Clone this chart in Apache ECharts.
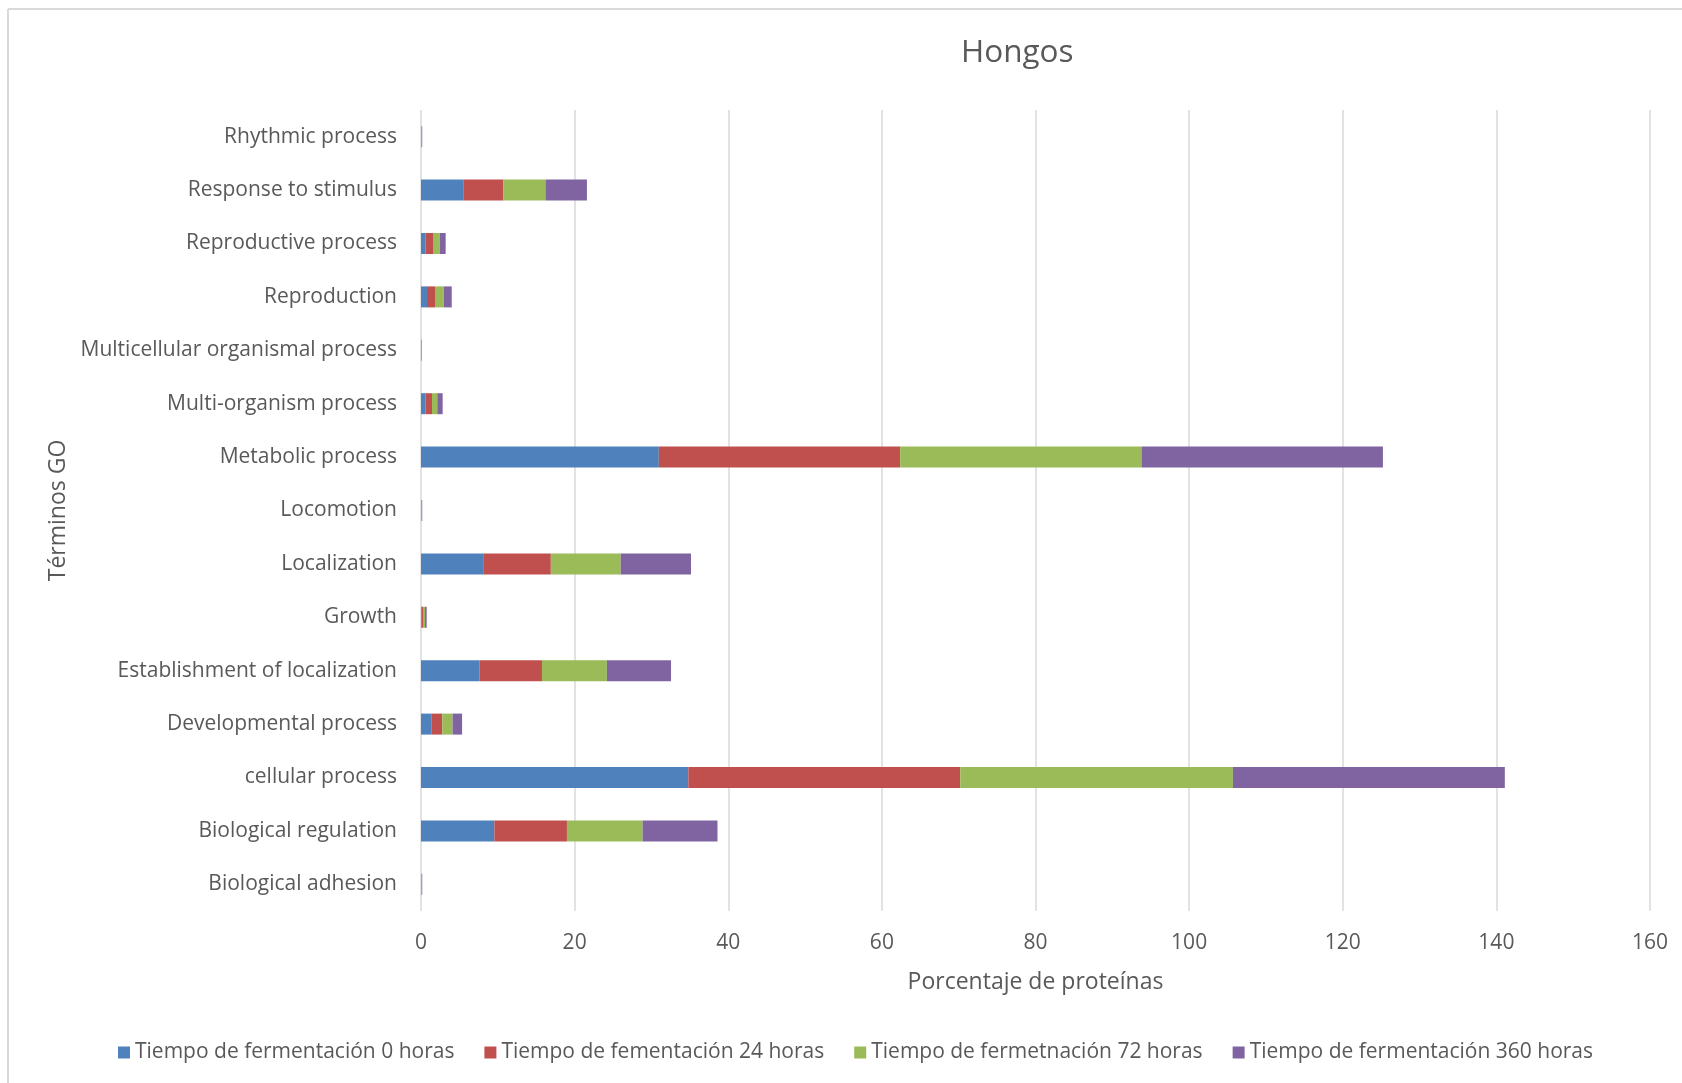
<!DOCTYPE html>
<html>
<head>
<meta charset="utf-8">
<script src="https://cdn.jsdelivr.net/npm/echarts@6/dist/echarts.min.js"></script>
<style>
  html, body { margin: 0; padding: 0; background: #fff; }
  #chart { width: 1682px; height: 1083px; }
</style>
</head>
<body>
<div id="chart"></div>
<script>
// categories from bottom to top, as in the original sheet
const categories = [
  'Biological adhesion', 'Biological regulation', 'cellular process',
  'Developmental process', 'Establishment of localization', 'Growth',
  'Localization', 'Locomotion', 'Metabolic process', 'Multi-organism process',
  'Multicellular organismal process', 'Reproduction', 'Reproductive process',
  'Response to stimulus', 'Rhythmic process'
];
const seriesNames = [
  'Tiempo de fermentación 0 horas',
  'Tiempo de fementación 24 horas',
  'Tiempo de fermetnación 72 horas',
  'Tiempo de fermentación 360 horas'
];
const hours0   = [0.04, 9.55, 34.8, 1.34, 7.6, 0.08, 8.1, 0.04, 30.96, 0.57, 0.03, 0.78, 0.57, 5.5, 0.04];
const hours24  = [0.04, 9.45, 35.4, 1.43, 8.15, 0.18, 8.8, 0.04, 31.42, 0.86, 0.03, 1.04, 0.99, 5.2, 0.04];
const hours72  = [0.04, 9.85, 35.5, 1.34, 8.45, 0.26, 9.1, 0.04, 31.42, 0.69, 0.03, 1.14, 0.87, 5.5, 0.04];
const hours360 = [0.04, 9.75, 35.4, 1.24, 8.35, 0.22, 9.15, 0.04, 31.43, 0.70, 0.03, 1.04, 0.78, 5.4, 0.04];
const xTicks = [0, 20, 40, 60, 80, 100, 120, 140, 160];

const colors = ['#4F81BD', '#C0504D', '#9BBB59', '#8064A2'];
const font = '"Open Sans", "Noto Sans", sans-serif';
const grey = '#595959';

let myChart = echarts.init(document.getElementById('chart'));
const values = [hours0, hours24, hours72, hours360];

let option = {
  backgroundColor: '#fff',
  color: colors,
  textStyle: { fontFamily: font, color: grey },
  title: {
    text: 'Hongos',
    left: 956,
    top: 32,
    textStyle: { fontFamily: font, fontSize: 31.5, fontWeight: 'normal', color: grey }
  },
  legend: {
    data: seriesNames,
    left: 118,
    top: 1042,
    padding: 0,
    icon: 'rect',
    itemWidth: 12,
    itemHeight: 12,
    itemGap: 30,
    textStyle: { fontFamily: font, fontSize: 21, color: grey, padding: [0, 0, 0, 0] }
  },
  grid: { left: 421, right: 32, top: 110, bottom: 172, containLabel: false },
  xAxis: {
    type: 'value',
    min: xTicks[0],
    max: xTicks[xTicks.length - 1],
    interval: 20,
    name: 'Porcentaje de proteínas',
    nameLocation: 'middle',
    nameGap: 60,
    nameTextStyle: { fontFamily: font, fontSize: 23, color: grey },
    axisLine: { show: false },
    axisTick: { show: false },
    axisLabel: { fontFamily: font, fontSize: 21, color: grey, margin: 22 },
    splitLine: { show: true, lineStyle: { color: '#d9d9d9', width: 1.5 } }
  },
  yAxis: {
    type: 'category',
    data: categories,
    name: 'Términos GO',
    nameLocation: 'middle',
    nameRotate: 90,
    nameGap: 344,
    nameTextStyle: { fontFamily: font, fontSize: 23, color: grey },
    axisLine: { show: false },
    axisTick: { show: false },
    axisLabel: { fontFamily: font, fontSize: 21, color: grey, margin: 24 }
  },
  series: seriesNames.map((name, i) => ({
    name: name,
    type: 'bar',
    stack: 'total',
    barWidth: 21,
    data: values[i],
    itemStyle: { color: colors[i] }
  })),
  graphic: [
    { type: 'line', shape: { x1: 8, y1: 9, x2: 1682, y2: 9 }, style: { stroke: '#d9d9d9', lineWidth: 2 } },
    { type: 'line', shape: { x1: 8, y1: 9, x2: 8, y2: 1083 }, style: { stroke: '#d9d9d9', lineWidth: 2 } }
  ]
};
myChart.setOption(option);
window.addEventListener('resize', () => { myChart.resize() });
</script>
</body>
</html>
